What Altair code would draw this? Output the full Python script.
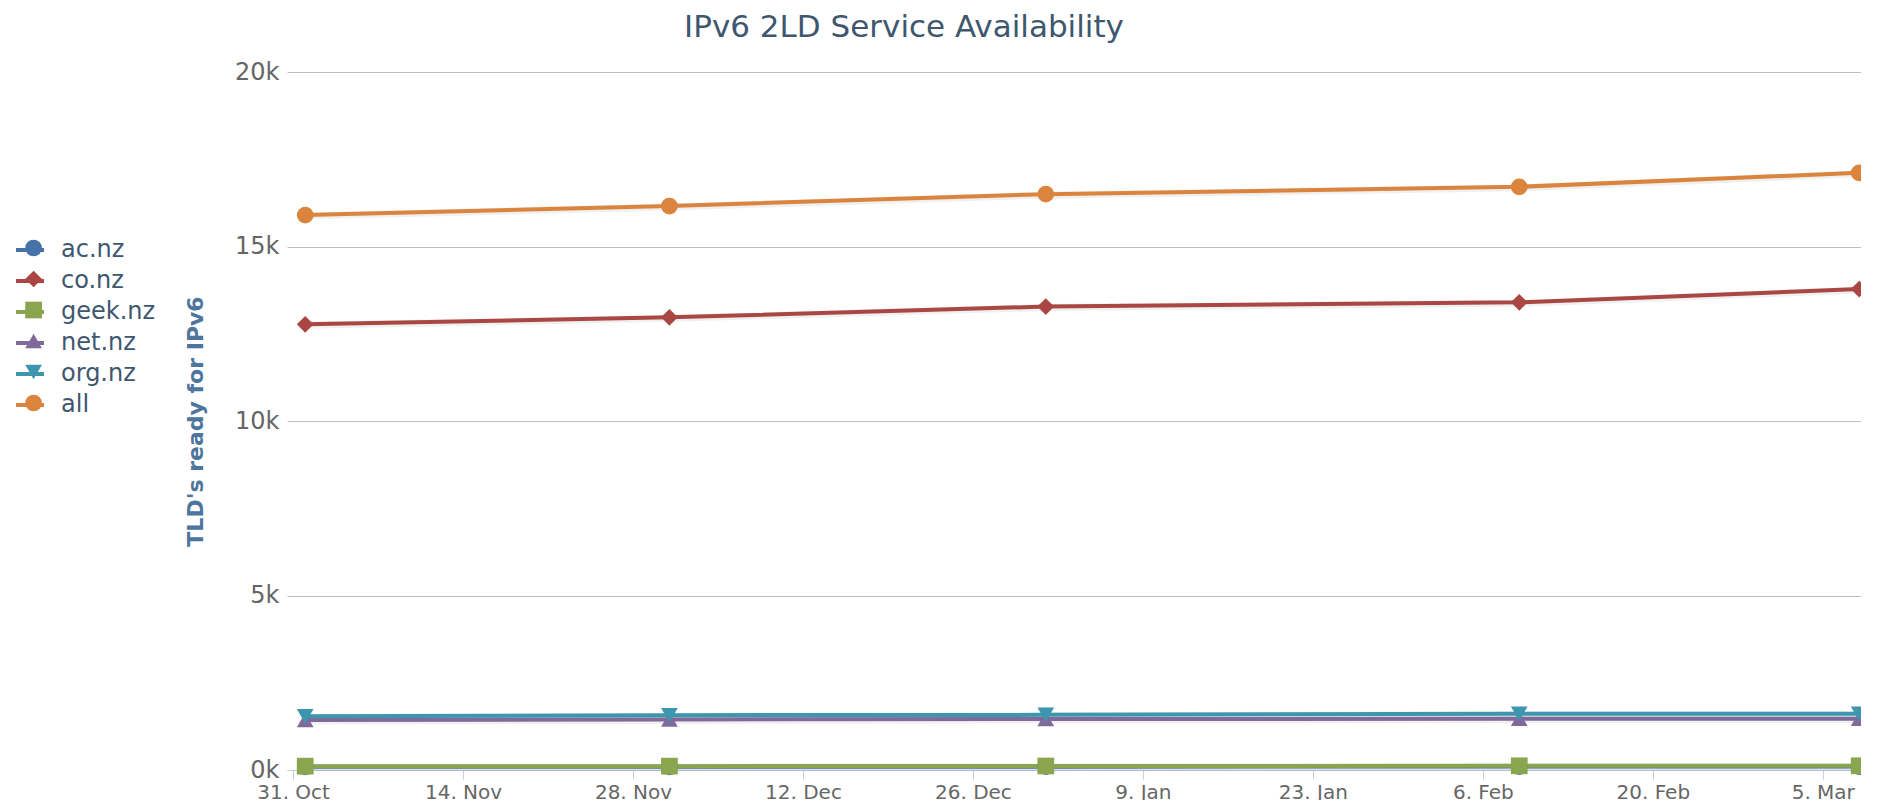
import altair as alt
import pandas as pd

# ---- data ----
dates = ["2011-11-01", "2011-12-01", "2012-01-01", "2012-02-09", "2012-03-08"]
series_names = ["ac.nz", "co.nz", "geek.nz", "net.nz", "org.nz", "all"]
ac_nz = [90, 90, 95, 100, 100]
co_nz = [12770, 12970, 13280, 13400, 13780]
geek_nz = [110, 110, 115, 120, 120]
net_nz = [1430, 1450, 1460, 1470, 1470]
org_nz = [1540, 1570, 1580, 1610, 1610]
all_2ld = [15900, 16160, 16500, 16710, 17110]

colors = ["#4572A7", "#AA4643", "#89A54E", "#80699B", "#3D96AE", "#DB843D"]
shapes = ["circle", "diamond", "square", "triangle-up", "triangle-down", "circle"]
marker_sizes = [280, 280, 280, 280, 280, 280]

x_tick_dates = [(2011, 10, 31), (2011, 11, 14), (2011, 11, 28), (2011, 12, 12),
                (2011, 12, 26), (2012, 1, 9), (2012, 1, 23), (2012, 2, 6),
                (2012, 2, 20), (2012, 3, 5)]
y_ticks = [0, 5000, 10000, 15000, 20000]

values_by_series = [ac_nz, co_nz, geek_nz, net_nz, org_nz, all_2ld]
rows = []
for name, vals in zip(series_names, values_by_series):
    for d, v in zip(dates, vals):
        rows.append({"date": d, "series": name, "value": v})
df = pd.DataFrame(rows)

FONT = "DejaVu Sans"

x_scale = alt.Scale(
    type="utc",
    domain=[alt.DateTime(year=2011, month=10, date=30, hours=12, utc=True),
            alt.DateTime(year=2012, month=3, date=8, hours=3, minutes=36, utc=True)],
)
x_axis = alt.Axis(
    values=[alt.DateTime(year=y, month=m, date=d, utc=True) for (y, m, d) in x_tick_dates],
    labelExpr="utcFormat(datum.value, '%-d. %b')",
    grid=False, title=None,
    domainColor="#C0D0E0", domainWidth=1,
    tickColor="#C0D0E0", tickSize=9, tickWidth=1,
    labelFont=FONT, labelFontSize=20, labelColor="#666666",
    labelPadding=3, labelFlush=False, labelOverlap=False,
)
y_axis = alt.Axis(
    values=y_ticks,
    labelExpr="datum.value / 1000 + 'k'",
    grid=True, gridColor="#C0C0C0", gridWidth=1,
    domain=False, ticks=False,
    labelFont=FONT, labelFontSize=24, labelColor="#666666",
    labelPadding=8, labelFlush=False,
    title="TLD's ready for IPv6",
    titleFont=FONT, titleFontSize=22, titleFontWeight="bold",
    titleColor="#4D759E", titleX=-92, titleBaseline="middle",
)

base = alt.Chart(df).encode(
    x=alt.X("date:T", scale=x_scale, axis=x_axis),
    y=alt.Y("value:Q", scale=alt.Scale(domain=[0, 20000], nice=False), axis=y_axis),
)

shadow = base.mark_line(
    strokeWidth=7, color="black", opacity=0.06, xOffset=1, yOffset=1
).encode(detail="series:N")

lines = base.mark_line(strokeWidth=4).encode(
    color=alt.Color(
        "series:N",
        scale=alt.Scale(domain=series_names, range=colors),
        legend=alt.Legend(
            orient="none", legendX=-273, legendY=162, title=None,
            symbolType="stroke", symbolSize=784, symbolStrokeWidth=4,
            labelFont=FONT, labelFontSize=24, labelColor="#3E576F",
            labelOffset=15, rowPadding=3, padding=0,
        ),
    )
)

pt_legend = alt.Legend(
    orient="none", legendX=-265.4, legendY=164, title=None,
    labelFont=FONT, labelFontSize=24, labelOpacity=0,
    labelOffset=15, rowPadding=7, padding=0,
    symbolOpacity=1, symbolStrokeWidth=0,
)
points = base.mark_point(filled=True, opacity=1, strokeWidth=0).encode(
    color=alt.Color("series:N", scale=alt.Scale(domain=series_names, range=colors),
                    legend=pt_legend),
    shape=alt.Shape("series:N", scale=alt.Scale(domain=series_names, range=shapes),
                    legend=pt_legend),
    size=alt.Size("series:N",
                  scale=alt.Scale(type="ordinal", domain=series_names, range=marker_sizes),
                  legend=pt_legend),
)

chart = alt.layer(shadow, lines, points).resolve_scale(
    color="independent", shape="independent", size="independent"
).resolve_legend(
    color="independent", shape="independent", size="independent"
).properties(
    width=1574, height=698,
    title=alt.TitleParams(
        "IPv6 2LD Service Availability",
        font=FONT, fontSize=31, fontWeight="normal", color="#3E576F",
        anchor="middle", frame="group", dx=-170, offset=16,
    ),
    autosize=alt.AutoSizeParams(type="none"),
    padding={"left": 279, "top": 64, "right": 0, "bottom": 30},
    background="white",
).configure_view(stroke=None)

chart.save("out.html", embed_options={"renderer": "svg", "actions": False})
